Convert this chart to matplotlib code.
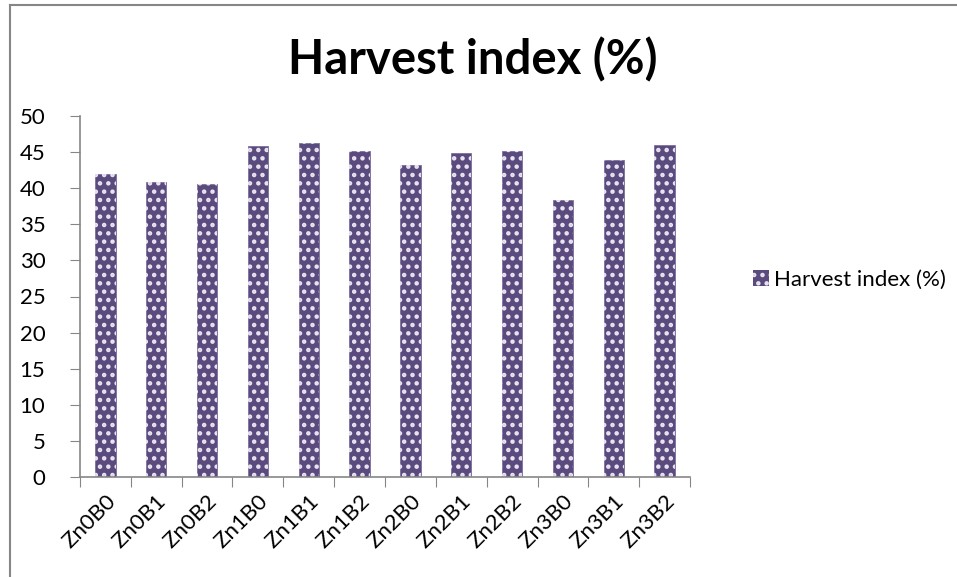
"""Harvest index bar chart for Zn x B treatment combinations."""

import matplotlib.pyplot as plt
from matplotlib.lines import Line2D
from matplotlib.patches import Patch

plt.rcParams["font.family"] = ["Lato", "DejaVu Sans"]
plt.rcParams["hatch.linewidth"] = 2.0

treatments = ["Zn0B0", "Zn0B1", "Zn0B2", "Zn1B0", "Zn1B1", "Zn1B2",
              "Zn2B0", "Zn2B1", "Zn2B2", "Zn3B0", "Zn3B1", "Zn3B2"]
harvest_index = [41.9, 40.9, 40.6, 45.8, 46.3, 45.1,
                 43.2, 44.9, 45.2, 38.3, 43.9, 46.0]
y_ticks = list(range(0, 55, 5))

BAR_COLOR = "#5b4a7e"
AXIS_COLOR = "#868686"

fig = plt.figure(figsize=(9.57, 5.77), dpi=100)
ax = fig.add_axes([80 / 957, 100 / 577, 610 / 957, 361 / 577])

x = range(len(treatments))
ax.bar(x, harvest_index, width=0.4, color=BAR_COLOR,
       edgecolor="#7d6fa0", linewidth=0.6)
# white dot fill drawn as a second pass so the hatch can be white
ax.bar(x, harvest_index, width=0.4, facecolor="none",
       edgecolor="#e8e4f0", hatch="..", linewidth=0)

ax.set_xlim(-0.5, len(treatments) - 0.5)
ax.set_ylim(0, 50)
ax.set_yticks(y_ticks)
ax.set_xticks([i - 0.5 for i in range(len(treatments) + 1)], minor=False)
ax.set_xticklabels([])
ax.set_xticks(list(x), minor=True)
ax.set_xticklabels(treatments, minor=True, rotation=45, ha="right",
                   va="top", rotation_mode="anchor", fontsize=16)
ax.tick_params(axis="x", which="minor", length=0, pad=10)
ax.tick_params(axis="x", which="major", length=7, color=AXIS_COLOR)
ax.tick_params(axis="y", length=7, color=AXIS_COLOR, labelsize=16, pad=18)

for side in ("top", "right"):
    ax.spines[side].set_visible(False)
for side in ("left", "bottom"):
    ax.spines[side].set_color(AXIS_COLOR)
    ax.spines[side].set_linewidth(1.2)

fig.text(473 / 957, 1 - 60 / 577, "Harvest index (%)", ha="center",
         va="center", fontsize=34, fontweight="bold")

swatch = Patch(facecolor=BAR_COLOR, edgecolor="#e8e4f0", hatch="..",
               linewidth=0)
fig.legend(handles=[swatch], labels=["Harvest index (%)"],
           loc="center left", bbox_to_anchor=(733 / 957, 1 - 280 / 577),
           frameon=False, fontsize=16, handlelength=0.7,
           handleheight=0.7, handletextpad=0.25)

# chart area border
fig.add_artist(Line2D([9.5 / 957, 9.5 / 957], [0, 1 - 4.5 / 577],
                      color=AXIS_COLOR, linewidth=1.5))
fig.add_artist(Line2D([9.5 / 957, 1], [1 - 4.5 / 577, 1 - 4.5 / 577],
                      color=AXIS_COLOR, linewidth=1.5))

fig.savefig("out.png", dpi=100)
